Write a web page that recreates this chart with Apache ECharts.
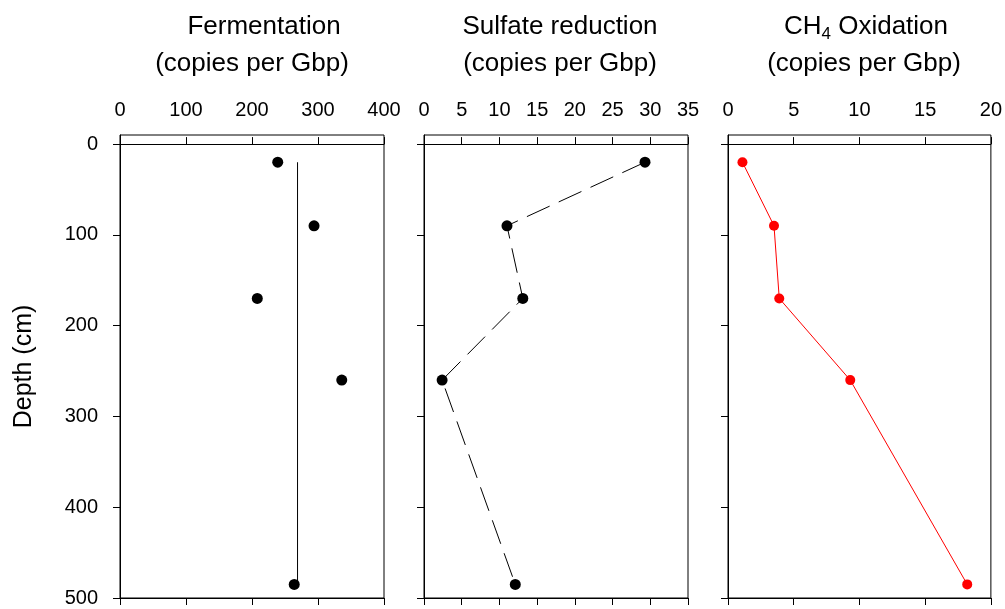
<!DOCTYPE html>
<html lang="en">
  <head>
    <meta charset="UTF-8" />
    <title>Depth profiles</title>
    <script src="https://cdn.jsdelivr.net/npm/echarts@6/dist/echarts.min.js"></script>
  </head>
  <style>
    body,
    html {
      margin: 0;
      height: 100%;
      background: #fff;
    }
  </style>
  <body>
    <div id="chart" style="width:1005px;height:609px"></div>
  </body>
  <script>
    // depth of each sample (cm)
    var depth = [20, 90, 170, 260, 485];
    // gene copies per Gbp
    var fermentation = [239, 294, 208, 336, 264];
    var fermentationMean = 269;
    var sulfate = [29.3, 11.0, 13.1, 2.4, 12.1];
    var ch4 = [1.1, 3.5, 3.9, 9.3, 18.2];

    var depthTicks = [0, 100, 200, 300, 400, 500];
    var xRanges = [
      { min: 0, max: 400, interval: 100 },
      { min: 0, max: 35, interval: 5 },
      { min: 0, max: 20, interval: 5 }
    ];
    var titleTop = ["Fermentation", "Sulfate reduction", "{m|CH}{sub|4}{m| Oxidation}"];
    var titleUnit = "(copies per Gbp)";

    var font = "'Liberation Sans', Arial, sans-serif";
    var lefts = [120, 424, 728];
    // title line centres (px), first line / second line
    var titleX = [[264, 252], [560, 560], [866, 864]];

    function pairs(xs) {
      return xs.map(function(v, i) {
        return [v, depth[i]];
      });
    }

    var grid = [];
    var xAxis = [];
    var yAxis = [];
    var graphic = [];
    lefts.forEach(function(left, i) {
      grid.push({
        left: left,
        top: 135,
        width: 264,
        height: 463,
        show: true,
        borderColor: "#000",
        borderWidth: 1
      });
      // top axis with labels
      xAxis.push({
        gridIndex: i,
        type: "value",
        position: "top",
        min: xRanges[i].min,
        max: xRanges[i].max,
        interval: xRanges[i].interval,
        axisLine: { lineStyle: { color: "#000", width: 1 } },
        axisTick: { inside: false, length: 7, lineStyle: { color: "#000" } },
        axisLabel: { fontFamily: font, fontSize: 20, color: "#000", margin: 15 },
        splitLine: { show: false }
      });
      // bottom axis, ticks only
      xAxis.push({
        gridIndex: i,
        type: "value",
        position: "bottom",
        min: xRanges[i].min,
        max: xRanges[i].max,
        interval: xRanges[i].interval,
        axisLine: { lineStyle: { color: "#000", width: 1 } },
        axisTick: { inside: false, length: 7, lineStyle: { color: "#000" } },
        axisLabel: { show: false },
        splitLine: { show: false }
      });
      yAxis.push({
        gridIndex: i,
        type: "value",
        inverse: true,
        min: -10,
        max: 500,
        name: i === 0 ? "Depth (cm)" : "",
        nameLocation: "middle",
        nameGap: 83,
        nameTextStyle: { fontFamily: font, fontSize: 25, color: "#000" },
        axisLine: { show: true, lineStyle: { color: "#000", width: 1 } },
        axisTick: {
          show: true,
          inside: false,
          length: 7,
          customValues: depthTicks,
          lineStyle: { color: "#000" }
        },
        axisLabel: {
          show: i === 0,
          customValues: depthTicks,
          fontFamily: font,
          fontSize: 20,
          color: "#000",
          margin: 22
        },
        splitLine: { show: false }
      });
      graphic.push(
        {
          type: "text",
          x: titleX[i][0],
          y: 27,
          style: {
            text: titleTop[i],
            fontFamily: font,
            fontSize: 26,
            fill: "#000",
            align: "center",
            verticalAlign: "middle",
            rich: {
              m: { fontFamily: font, fontSize: 26, fill: "#000" },
              sub: { fontFamily: font, fontSize: 17, fill: "#000", padding: [14, 0, 0, 0] }
            }
          }
        },
        {
          type: "text",
          x: titleX[i][1],
          y: 64,
          style: {
            text: titleUnit,
            fontFamily: font,
            fontSize: 26,
            fill: "#000",
            align: "center",
            verticalAlign: "middle"
          }
        }
      );
    });

    var option = {
      animation: false,
      backgroundColor: "#fff",
      grid: grid,
      xAxis: xAxis,
      yAxis: yAxis,
      graphic: graphic,
      series: [
        {
          type: "line",
          xAxisIndex: 0,
          yAxisIndex: 0,
          data: [
            [fermentationMean, depth[0]],
            [fermentationMean, depth[depth.length - 1]]
          ],
          showSymbol: false,
          lineStyle: { color: "#000", width: 1 }
        },
        {
          type: "scatter",
          xAxisIndex: 0,
          yAxisIndex: 0,
          data: pairs(fermentation),
          symbolSize: 11,
          itemStyle: { color: "#000", opacity: 1 }
        },
        {
          type: "line",
          xAxisIndex: 2,
          yAxisIndex: 1,
          data: pairs(sulfate),
          symbol: "circle",
          symbolSize: 11,
          itemStyle: { color: "#000" },
          lineStyle: { color: "#000", width: 1, type: [25, 10] }
        },
        {
          type: "line",
          xAxisIndex: 4,
          yAxisIndex: 2,
          data: pairs(ch4),
          symbol: "circle",
          symbolSize: 10,
          itemStyle: { color: "#ff0000" },
          lineStyle: { color: "#ff0000", width: 1 }
        }
      ]
    };

    var chart = echarts.init(document.querySelector("#chart"));
    chart.setOption(option);
  </script>
</html>
